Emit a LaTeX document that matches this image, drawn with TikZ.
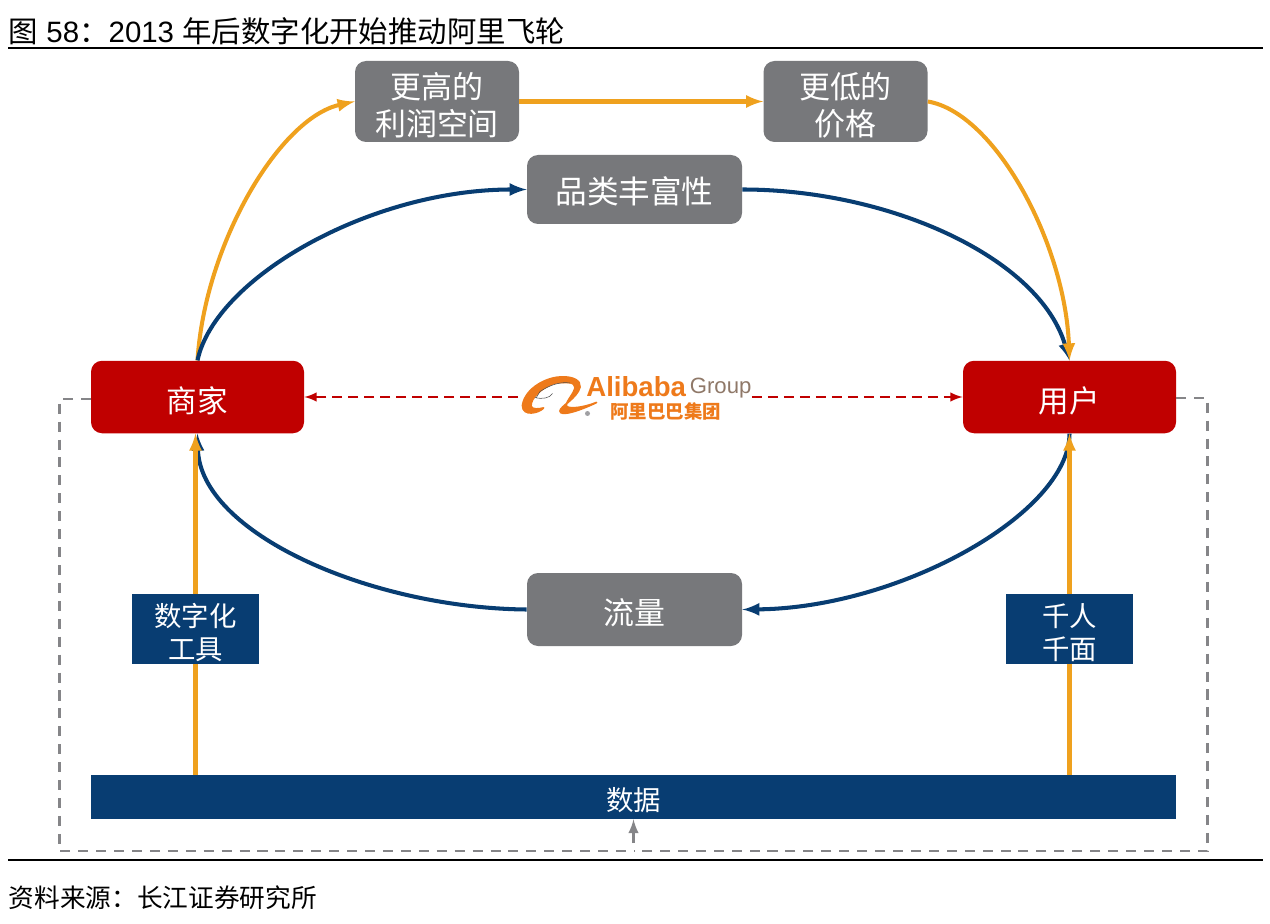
\documentclass[tikz,border=0pt]{standalone}
\usepackage{fontspec}
\setmainfont{Liberation Sans}
\newfontfamily\cjk{Noto Sans CJK SC}
\usepackage{xcolor}
\usetikzlibrary{shapes}

\definecolor{boxgray}{HTML}{77787B}
\definecolor{boxred}{HTML}{C00000}
\definecolor{boxblue}{HTML}{083D72}
\definecolor{lineorange}{HTML}{EFA11E}
\definecolor{logoorange}{HTML}{EE7A1B}

\newcommand{\dropline}[1]{\raisebox{-2pt}[\height][\depth]{#1}}

\tikzset{
  graybox/.style={fill=boxgray, rounded corners=0.22cm, text=white, inner sep=0, align=center, font=\cjk\fontsize{17.6}{21}\selectfont},
  redbox/.style={fill=boxred, rounded corners=0.22cm, text=white, inner sep=0, minimum width=4.26cm, minimum height=1.45cm, font=\cjk\fontsize{17.4}{20}\selectfont},
  bluebox/.style={fill=boxblue, text=white, inner sep=0, align=center, minimum width=2.54cm, minimum height=1.4cm, font=\cjk\fontsize{15.6}{19}\selectfont},
  orangeline/.style={draw=lineorange, line width=2.3pt},
  blueline/.style={draw=boxblue, line width=2.3pt},
  reddash/.style={draw=boxred, line width=1.4pt, dash pattern=on 5.7pt off 3.4pt},
  graydash/.style={draw=boxgray!90, line width=1.5pt, dash pattern=on 5.7pt off 4.5pt}
}

\begin{document}
\begin{tikzpicture}[>=latex]

\useasboundingbox (0,0) rectangle (25.4,18.46);

% -------------------------
% Title and caption
% -------------------------
\node[anchor=west, inner sep=0, font=\fontsize{16.75}{19}\selectfont] (title) at (0.17,17.84) {{\cjk 图} 58{\cjk ：}2013 {\cjk 年后数字化开始推动阿里飞轮}};
\node[anchor=west, inner sep=0, font=\cjk\fontsize{14.6}{19}\selectfont] (source) at (0.17,0.5) {资料来源：长江证券研究所};

\coordinate (topL) at (0.16,17.5);
\coordinate (topR) at (25.26,17.5);
\coordinate (botL) at (0.16,1.26);
\coordinate (botR) at (25.26,1.26);
\draw[line width=0.8pt] (topL) -- (topR);
\draw[line width=0.8pt] (botL) -- (botR);

% -------------------------
% Boxes
% -------------------------
\node[graybox, minimum width=3.28cm, minimum height=1.62cm] (higher) at (8.74,16.43) {\dropline{更高的}\\\dropline{利润空间}};
\node[graybox, minimum width=3.28cm, minimum height=1.62cm] (lower) at (16.91,16.43) {\dropline{更低的}\\\dropline{价格}};
\node[graybox, minimum width=4.3cm, minimum height=1.38cm, font=\cjk\fontsize{18}{21}\selectfont] (variety) at (12.69,14.67) {\raisebox{-1pt}[\height][\depth]{品类丰富性}};
\node[graybox, minimum width=4.3cm, minimum height=1.46cm] (traffic) at (12.69,6.27) {\dropline{流量}};

\node[redbox] (merchant) at (3.95,10.52) {\dropline{商家}};
\node[redbox] (user) at (21.39,10.52) {\dropline{用户}};

\node[bluebox] (tool) at (3.91,5.88) {\dropline{数字化}\\\dropline{工具}};
\node[bluebox] (persona) at (21.39,5.88) {\dropline{千人}\\\dropline{千面}};

\node[fill=boxblue, text=white, minimum width=21.7cm, minimum height=0.88cm, inner sep=0, font=\cjk\fontsize{15.6}{19}\selectfont] (data) at (12.67,2.52) {\dropline{数据}};

% -------------------------
% Logo
% -------------------------
\node[inner sep=0, minimum width=4.66cm, minimum height=0.95cm] (logo) at (12.7,10.52) {};
\filldraw[logoorange, line width=1pt, line join=round] (10.45,10.35) .. controls (10.5,10.7) and (10.95,10.93) .. (11.25,10.92)
  .. controls (11.45,10.93) and (11.62,10.85) .. (11.6,10.72)
  .. controls (11.55,10.5) and (11.2,10.33) .. (11.2,10.24)
  .. controls (11.2,10.12) and (11.6,10.25) .. (11.93,10.41)
  .. controls (11.65,10.3) and (11.4,10.28) .. (11.33,10.33)
  .. controls (11.3,10.42) and (11.5,10.6) .. (11.5,10.72)
  .. controls (11.5,10.83) and (11.3,10.82) .. (11.1,10.8)
  .. controls (10.85,10.72) and (10.6,10.5) .. (10.62,10.33)
  .. controls (10.65,10.26) and (10.78,10.28) .. (10.87,10.3)
  .. controls (10.78,10.2) and (10.45,10.12) .. (10.45,10.35) -- cycle;
\draw[black!70, line width=0.3pt] (11.4,10.8) .. controls (11.2,10.83) and (11,10.76) .. (10.8,10.63) -- (10.72,10.5);
\draw[black!70, line width=0.3pt] (10.7,10.51) .. controls (10.85,10.47) and (11,10.5) .. (11.05,10.59);
\fill[boxgray!70] (11.75,10.19) circle (0.05);
\node[inner sep=0, anchor=west, text=logoorange, font=\bfseries\fontsize{15.7}{18}\selectfont] (alibaba) at (11.72,10.72) {Alibaba};
\node[inner sep=0, anchor=west, text=boxgray!80!logoorange, font=\fontsize{12.6}{14}\selectfont] (group) at (13.79,10.7) {Group};
\node[inner sep=0, anchor=west, text=logoorange, font=\cjk\bfseries\fontsize{10.5}{12}\selectfont] (cnname) at (12.2,10.24) {阿里巴巴集团};

% -------------------------
% Connectors
% -------------------------
\draw[orangeline, ->] (merchant.north) .. controls (4.1,13.6) and (5.6,16.1) .. (higher.west);
\draw[orangeline, ->] (higher.east) -- (lower.west);
\draw[blueline, ->] (merchant.north) .. controls (4.3,12.9) and (7.4,14.67) .. (variety.west);
\draw[blueline, ->] (variety.east) .. controls (17.8,14.67) and (20.8,13.3) .. (user.north);
\draw[orangeline, ->] (lower.east) .. controls (19.9,16.2) and (21.3,13.6) .. (user.north);
\draw[blueline, ->] (user.south) .. controls (21.39,8.2) and (18,6.3) .. (traffic.east);
\draw[blueline, ->] (traffic.west) .. controls (7.4,6.3) and (4.0,7.8) .. (merchant.south);

\draw[orangeline, ->] (tool.north) -- (tool.north |- merchant.south);
\draw[orangeline] (tool.south) -- (tool.south |- data.north);
\draw[orangeline, ->] (persona.north) -- (persona.north |- user.south);
\draw[orangeline] (persona.south) -- (persona.south |- data.north);

\draw[reddash, ->] (logo.west) -- (merchant.east);
\draw[reddash, ->] (logo.east) -- (user.west);

\coordinate (loopL) at (1.19,10.48);
\coordinate (loopR) at (24.15,10.5);
\coordinate (loopM) at (12.67,1.44);
\coordinate (loopUp) at (12.67,1.6);
\draw[graydash] (merchant.west |- loopL) -- (loopL) -- (loopL |- loopM) -- (loopM);
\draw[graydash] (user.east |- loopR) -- (loopR) -- (loopR |- loopM) -- (loopM);
\draw[draw=boxgray!90, line width=1.7pt, ->] (loopUp) -- (data.south -| loopUp);

\end{tikzpicture}
\end{document}
